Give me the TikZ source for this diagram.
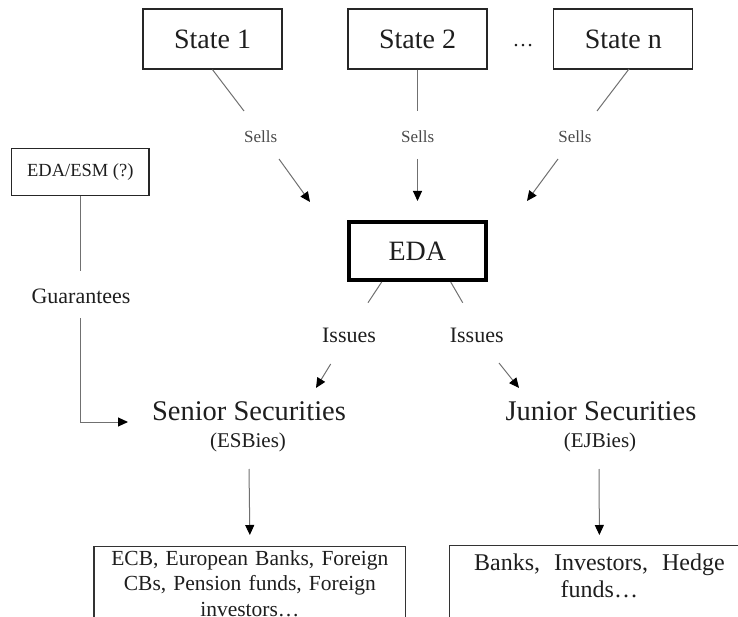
\documentclass[tikz,border=0pt]{standalone}
\usepackage{fontspec}
\setmainfont{Liberation Serif}
\usetikzlibrary{arrows.meta}
\definecolor{linegray}{HTML}{707070}
\definecolor{txt}{HTML}{1E1E1E}
\definecolor{sellgray}{HTML}{4A4A4A}
\begin{document}
\begin{tikzpicture}[x=1pt,y=-1pt,
  statebox/.style={draw=black!85, line width=1.3pt, minimum width=139pt, minimum height=60pt,
    inner sep=0pt, text=txt, font=\fontsize{28}{30}\selectfont},
  edabox/.style={draw=black, line width=3.8pt, minimum width=137.3pt, minimum height=57.7pt,
    inner sep=0pt, text=txt, font=\fontsize{28}{30}\selectfont},
  esmbox/.style={draw=black!85, line width=1.3pt, minimum width=137.3pt, minimum height=47.4pt,
    inner sep=0pt, text=txt, font=\fontsize{18.5}{20}\selectfont},
  sellslbl/.style={text=sellgray, inner sep=0pt, font=\fontsize{17}{18}\selectfont},
  midlbl/.style={text=txt, inner sep=0pt, font=\fontsize{22}{24}\selectfont},
  seclbl/.style={text=txt, inner sep=0pt, font=\fontsize{28.5}{30}\selectfont},
  taglbl/.style={text=txt, inner sep=0pt, font=\fontsize{21}{23}\selectfont},
  buyerbox/.style={draw=black!80, line width=1.4pt, anchor=north, align=center, text=txt},
  conn/.style={draw=linegray, line width=1pt},
  arr/.style={draw=linegray, line width=1pt, -{Triangle[length=10pt,width=9pt,color=black]}}
]
\useasboundingbox (0,0) rectangle (738,617);
\clip (0,0) rectangle (738,617);

% states
\node[statebox] (s1) at (212.5,39) {State 1};
\node[statebox] (s2) at (417.5,39) {State 2};
\node[text=txt, inner sep=0pt, font=\fontsize{21}{22}\selectfont] (dots) at (523,46) {…};
\node[statebox] (sn) at (623.3,39) {State n};

% sells labels
\node[sellslbl] (sl1) at (260.7,137) {Sells};
\node[sellslbl] (sl2) at (417.7,137) {Sells};
\node[sellslbl] (sl3) at (575,137) {Sells};

% EDA
\node[edabox] (eda) at (417.3,250.8) {EDA};

% EDA/ESM
\node[esmbox] (esm) at (80.3,172) {EDA/ESM (?)};
\node[midlbl] (guar) at (81,296) {Guarantees};

% issues labels
\node[midlbl] (is1) at (349,335) {Issues};
\node[midlbl] (is2) at (476.7,335) {Issues};

% securities
\node[seclbl] (sen) at (249,411.5) {Senior Securities};
\node[taglbl] (esb) at (248,442) {(ESBies)};
\node[seclbl] (jun) at (601,411.5) {Junior Securities};
\node[taglbl] (ejb) at (600,442) {(EJBies)};

% buyers
\node[buyerbox, minimum width=311.7pt, text width=300pt, inner xsep=5pt, inner ysep=3.5pt,
  text depth=70pt, font=\fontsize{21.5}{25.5}\selectfont] (buy1) at (249.85,546)
  {ECB, European Banks, Foreign\\CBs, Pension funds, Foreign\\investors…};
\node[buyerbox, minimum width=300.2pt, text width=290pt, inner xsep=5pt, inner ysep=8.3pt,
  text depth=70pt, font=\fontsize{24}{27.3}\selectfont] (buy2) at (599.4,545)
  {Banks,\hspace{6pt} Investors,\hspace{6pt} Hedge\\funds…};

% coordinates for line ends
\coordinate (a1) at (244,111);
\coordinate (a2) at (417.5,111);
\coordinate (a3s) at (629,69);
\coordinate (a3) at (597,111);
\coordinate (b1) at (279,159);
\coordinate (t1) at (310,202);
\coordinate (b2) at (417.5,159);
\coordinate (t2) at (417.5,201);
\coordinate (b3) at (558,159);
\coordinate (t3) at (527,201);
\coordinate (e1s) at (381.7,282);
\coordinate (e1) at (368,302.7);
\coordinate (e2s) at (450.7,282);
\coordinate (e2) at (462.7,302.7);
\coordinate (i1) at (330.7,364);
\coordinate (it1) at (316,388);
\coordinate (i2) at (499,363);
\coordinate (it2) at (519,388);
\coordinate (g1) at (80.3,271);
\coordinate (g2) at (80.3,318);
\coordinate (gt) at (128,422);
\coordinate (d1) at (249,469);
\coordinate (d2) at (599,469);

% connectors
\draw[conn] (s1.south) -- (a1);
\draw[conn] (s2.south) -- (a2);
\draw[conn] (a3s) -- (a3);
\draw[arr] (b1) -- (t1);
\draw[arr] (b2) -- (t2);
\draw[arr] (b3) -- (t3);

\draw[conn] (e1s) -- (e1);
\draw[conn] (e2s) -- (e2);
\draw[arr] (i1) -- (it1);
\draw[arr] (i2) -- (it2);

\draw[conn] (esm.south) -- (g1);
\draw[arr] (g2) |- (gt);

\draw[arr] (d1) -- (buy1.north |- 0,535);
\draw[arr] (d2) -- (buy2.north |- 0,535);
\end{tikzpicture}
\end{document}
